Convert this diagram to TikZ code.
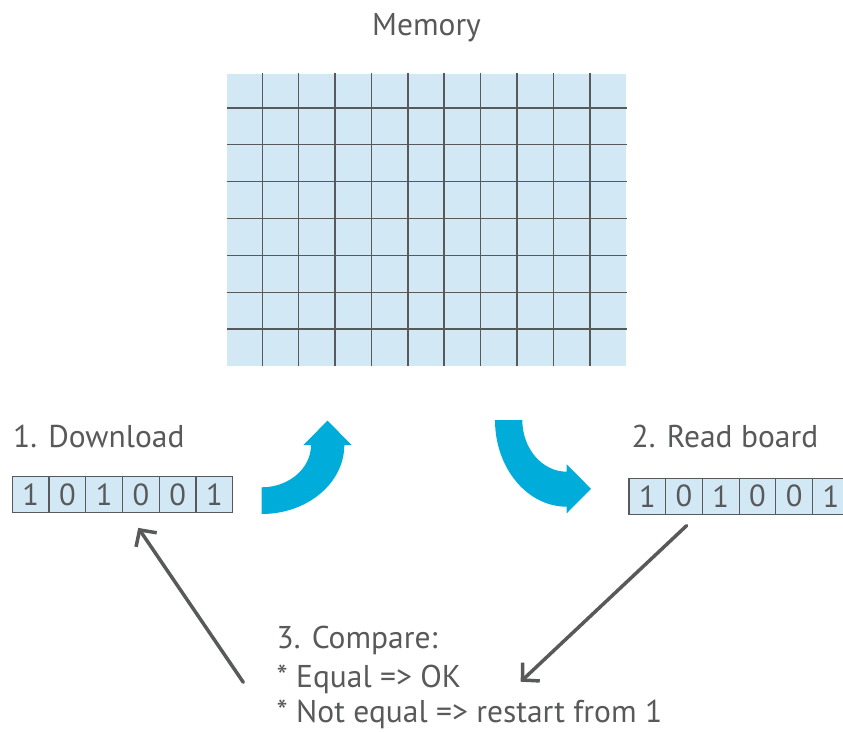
\documentclass[tikz,border=0pt]{standalone}
\usepackage{fontspec}
\setmainfont{PT Sans}
\usetikzlibrary{arrows.meta,calc}

\definecolor{inkgray}{HTML}{58595B}
\definecolor{cellblue}{HTML}{D2E8F4}
\definecolor{flowblue}{HTML}{00ADDA}

\tikzset{
  label text/.style={inner sep=0pt, anchor=base west, text=inkgray,
    font=\fontsize{31.5}{36}\selectfont},
  bitcell/.style={draw=inkgray, line width=1.2pt, fill=cellblue,
    minimum width=36.7pt, minimum height=36pt, inner sep=0pt,
    text=inkgray, font=\fontsize{30.5}{34}\selectfont},
  gridline/.style={draw=inkgray, line width=1.6pt},
  pointer/.style={draw=inkgray, line width=3.5pt, line cap=round,
    -{Straight Barb[length=12pt, width=25pt, line width=3.5pt]}},
  flow/.style={fill=flowblue, draw=none}
}

\begin{document}
\begin{tikzpicture}[x=1pt, y=-1pt]
  \useasboundingbox (0,0) rectangle (843,731);
  \clip (0,0) rectangle (843,731);

  % title and memory grid
  \node[label text, anchor=base] (title) at (426.5,35) {Memory};
  \fill[cellblue] (227,74) rectangle (626,365.7);
  \foreach \i in {0,...,9}
    \draw[gridline] ({262.3+36.38*\i},73.3) -- ({262.3+36.38*\i},365.7);
  \foreach \j in {0,...,6}
    \draw[gridline] (227,{107.7+36.93*\j}) -- (626.7,{107.7+36.93*\j});

  % step labels
  \node[label text] (dl) at (13,447) {1. Download};
  \node[label text] (rb) at (631.5,447) {2. Read board};

  % bit registers
  \foreach \b [count=\k] in {1,0,1,0,0,1}
    \node[bitcell] (L\k) at ({12.3+36.73*(\k-0.5)},494.7) {\b};
  \foreach \b [count=\k] in {1,0,1,0,0,1}
    \node[bitcell] (R\k) at ({629+36.7*(\k-0.5)},496.3) {\b};

  % compare text
  \node[label text] (cmp1) at (276.5,648) {3. Compare:};
  \node[label text] (cmp2) at (276.5,687) {* Equal => OK};
  \node[label text] (cmp3) at (276.5,722) {* Not equal => restart from 1};

  % curved flow arrows
  \path[flow] (261.7,514) -- (261.7,487.3)
    .. controls (288.9,487.3) and (311,468.4) .. (311,445)
    -- (303.3,445) -- (327.5,420.7) -- (351.7,445) -- (344.3,445)
    .. controls (344.3,483.1) and (307.3,514) .. (261.7,514) -- cycle;
  \path[flow] (495,420) -- (522.3,420)
    .. controls (522.3,448.6) and (542.2,471.7) .. (566.7,471.7)
    -- (566.7,464.3) -- (591,488.8) -- (566.7,513.3) -- (566.7,506.7)
    .. controls (527.1,506.7) and (495,467.9) .. (495,420) -- cycle;

  % comparison pointers
  \coordinate (dlTip) at ($(L4.south)+(-2.6,14.6)$);
  \coordinate (cmpTail) at ($(cmp2.base west)+(-33.2,-4.7)$);
  \coordinate (rbTail) at ($(R2.south)+(2.6,10.7)$);
  \coordinate (cmpTip) at ($(cmp2.base west)+(244.2,-5.3)$);
  \draw[pointer] (cmpTail) -- (dlTip);
  \draw[pointer] (rbTail) -- (cmpTip);
\end{tikzpicture}
\end{document}
